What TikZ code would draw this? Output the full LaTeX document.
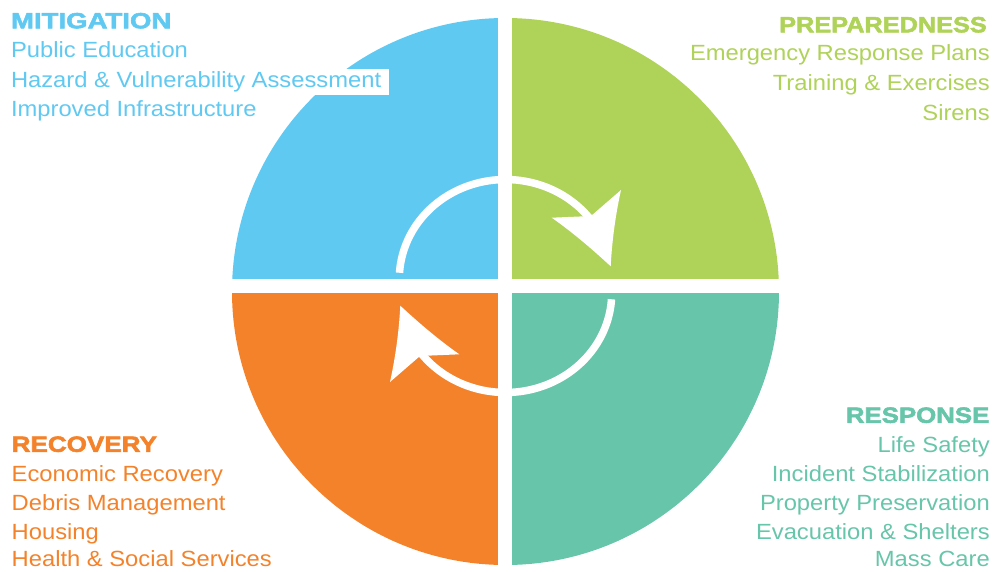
\documentclass[tikz,border=0pt]{standalone}
\usepackage{fontspec}
\setmainfont[FakeStretch=1.08]{Liberation Sans}
\newfontfamily\headfont[FakeStretch=1.15,BoldFeatures={FakeBold=2.5}]{Liberation Sans}

\definecolor{cblue}{RGB}{96,201,242}
\definecolor{cgreen}{RGB}{175,210,88}
\definecolor{corange}{RGB}{244,130,42}
\definecolor{cteal}{RGB}{103,197,169}

\begin{document}
\begin{tikzpicture}[x=1pt,y=-1pt,
  itemtext/.style={inner sep=0pt, font=\fontsize{22}{26}\selectfont},
  headtext/.style={inner sep=0pt, font=\headfont\bfseries\fontsize{22}{26}\selectfont},
  ring/.style={white, line width=7.5pt, line cap=butt},
  headfill/.style={fill=white, draw=none}]

\useasboundingbox (0,0) rectangle (994,571);

% four quarters of the cycle wheel
\begin{scope}
  \clip (505.5,291.5) circle [radius=273.5pt];
  \fill[cblue]   (0,0)     rectangle (498,279);
  \fill[cgreen]  (512,0)   rectangle (994,279);
  \fill[corange] (0,292.7) rectangle (498,571);
  \fill[cteal]   (512,292.7) rectangle (994,571);
\end{scope}

% circulating arrows in the middle
\draw[ring] plot[domain=183.6:324, samples=80] ({505.5+106.2*cos(\x)},{279+99.5*sin(\x)});
\fill[headfill] (551.7,217.7) -- (591,216) -- (621,190)
  .. controls (615.5,215) and (612,241) .. (610.7,266.3)
  .. controls (591,248) and (571.4,231.5) .. cycle;

\draw[ring] plot[domain=3.6:144, samples=80] ({505.5+106.2*cos(\x)},{293+99.5*sin(\x)});
\fill[headfill] (459.3,354.3) -- (420,356) -- (390,382)
  .. controls (395.5,357) and (399,331) .. (400.3,305.7)
  .. controls (420,324) and (439.6,340.5) .. cycle;

% mitigation
\node[headtext, text=cblue, anchor=base west] (mit) at (10.8,28.3) {\scalebox{1.09}[1]{MITIGATION}};
\node[itemtext, text=cblue, anchor=base west] (mit1) at (10.8,57.3) {Public Education};
\node[itemtext, text=cblue, anchor=base west, fill=white, inner xsep=7.5pt,
      text height=18.3pt, text depth=7.7pt] (mit2) at (3.3,87.3) {Hazard \& Vulnerability Assessment};
\node[itemtext, text=cblue, anchor=base west] (mit3) at (10.8,116.7) {Improved Infrastructure};

% preparedness
\node[headtext, text=cgreen, anchor=base east] (pre) at (987,32.3) {PREPAREDNESS};
\node[itemtext, text=cgreen, anchor=base east] (pre1) at (990,60.3) {Emergency Response Plans};
\node[itemtext, text=cgreen, anchor=base east] (pre2) at (990,90) {Training \& Exercises};
\node[itemtext, text=cgreen, anchor=base east] (pre3) at (990,120) {Sirens};

% response
\node[headtext, text=cteal, anchor=base east] (res) at (989.5,422.8) {\scalebox{1.02}[1]{RESPONSE}};
\node[itemtext, text=cteal, anchor=base east] (res1) at (990,452.3) {Life Safety};
\node[itemtext, text=cteal, anchor=base east] (res2) at (990,481.2) {Incident Stabilization};
\node[itemtext, text=cteal, anchor=base east] (res3) at (990,510.2) {Property Preservation};
\node[itemtext, text=cteal, anchor=base east] (res4) at (990,539.2) {Evacuation \& Shelters};
\node[itemtext, text=cteal, anchor=base east] (res5) at (990,566.2) {Mass Care};

% recovery
\node[headtext, text=corange, anchor=base west] (rec) at (11.5,451.8) {\scalebox{1.03}[1]{RECOVERY}};
\node[itemtext, text=corange, anchor=base west] (rec1) at (11.5,481.2) {Economic Recovery};
\node[itemtext, text=corange, anchor=base west] (rec2) at (11.5,510.4) {Debris Management};
\node[itemtext, text=corange, anchor=base west] (rec3) at (11.5,539.7) {Housing};
\node[itemtext, text=corange, anchor=base west] (rec4) at (11.5,566.2) {Health \& Social Services};

\end{tikzpicture}
\end{document}
